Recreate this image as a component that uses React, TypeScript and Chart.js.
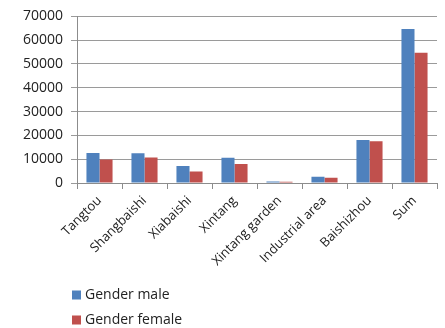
import React, { useEffect, useRef } from "react";
import { Chart, registerables } from "chart.js";

Chart.register(...registerables);

const categories = ["Tangtou", "Shangbaishi", "Xiabaishi", "Xintang", "Xintang garden", "Industrial area", "Baishizhou", "Sum"];
const maleValues = [12650, 12530, 7150, 10580, 660, 2600, 18020, 64740];
const femaleValues = [9920, 10750, 4800, 7980, 540, 2190, 17490, 54690];
const seriesNames = ["Gender male", "Gender female"];
const yMin = 0;
const yMax = 70000;
const yStep = 10000;

const FONT = "'Open Sans', 'DejaVu Sans', sans-serif";

const legendPlugin = {
  id: "stackedLegend",
  afterDraw(chart: any) {
    const ctx = chart.ctx;
    const { left, bottom } = chart.chartArea;
    ctx.save();
    ctx.font = `14px ${FONT}`;
    ctx.textBaseline = "middle";
    chart.data.datasets.forEach((ds: any, i: number) => {
      const y = bottom + 112 + i * 25;
      ctx.fillStyle = ds.backgroundColor;
      ctx.fillRect(left - 5, y - 4.5, 9, 9);
      ctx.fillStyle = "#222";
      ctx.fillText(ds.label, left + 8, y + 0.5);
    });
    ctx.restore();
  },
};

export default function App() {
  const ref = useRef<HTMLCanvasElement | null>(null);
  useEffect(() => {
    if (!ref.current) return;
    const chart = new Chart(ref.current, {
      type: "bar",
      data: {
        labels: categories,
        datasets: [
          { label: seriesNames[0], data: maleValues, backgroundColor: "#4F81BD", borderWidth: 0 },
          { label: seriesNames[1], data: femaleValues, backgroundColor: "#C0504D", borderWidth: 0 },
        ],
      },
      options: {
        animation: false,
        responsive: false,
        maintainAspectRatio: false,
        layout: { padding: { left: 0, right: 8, top: 9, bottom: 0 } },
        plugins: { legend: { display: false }, tooltip: { enabled: false } },
        datasets: { bar: { categoryPercentage: 0.58, barPercentage: 1.0 } },
        scales: {
          x: {
            grid: { offset: true, drawOnChartArea: false, tickLength: 6, color: "#8c8c8c" },
            border: { display: true, color: "#8c8c8c" },
            ticks: { minRotation: 45, maxRotation: 45, autoSkip: false, color: "#222", font: { family: FONT, size: 13 }, padding: 4 },
            afterFit(scale: any) { scale.height = 145; },
          },
          y: {
            min: yMin,
            max: yMax,
            ticks: {
              stepSize: yStep,
              color: "#222",
              font: { family: FONT, size: 14 },
              padding: 8,
              callback: (v: any) => String(v),
            },
            grid: { color: "#9a9a9a", tickLength: 6 },
            border: { display: true, color: "#8c8c8c" },
            afterFit(scale: any) { scale.width = 77; },
          },
        },
      },
      plugins: [legendPlugin],
    });
    return () => chart.destroy();
  }, []);
  return (
    <div style={{ position: "absolute", left: 0, top: 0, width: 445, height: 328, background: "#fff" }}>
      <canvas ref={ref} width={445} height={328} style={{ width: 445, height: 328 }} />
    </div>
  );
}
